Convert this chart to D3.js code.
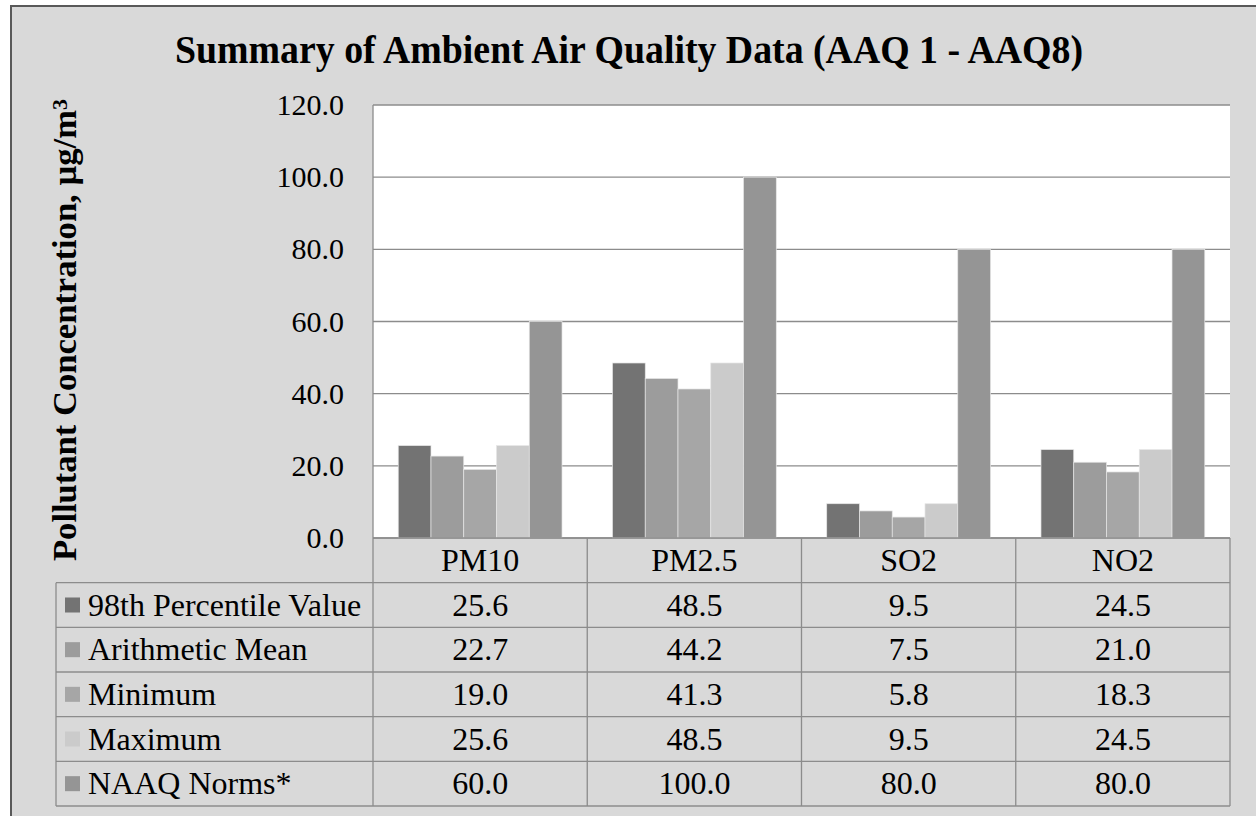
<!DOCTYPE html>
<html>
<head>
<meta charset="utf-8">
<script src="https://cdn.jsdelivr.net/npm/d3@7"></script>
<style>
  body { margin: 0; background: #ffffff; }
  text { font-family: "Liberation Serif", "Times New Roman", serif; fill: #000; }
</style>
</head>
<body>
<svg id="chart" width="1256" height="816"></svg>
<script>
// chart data
const categories = ["PM10", "PM2.5", "SO2", "NO2"]
const seriesNames = ["98th Percentile Value", "Arithmetic Mean", "Minimum", "Maximum", "NAAQ Norms*"]
const p98 = [25.6, 48.5, 9.5, 24.5]
const mean = [22.7, 44.2, 7.5, 21.0]
const minimum = [19.0, 41.3, 5.8, 18.3]
const maximum = [25.6, 48.5, 9.5, 24.5]
const naaq = [60.0, 100.0, 80.0, 80.0]
const yTicks = [0, 20, 40, 60, 80, 100, 120]
const seriesColors = ["#737373", "#9c9c9c", "#a6a6a6", "#cbcbcb", "#959595"]

const seriesValues = [p98, mean, minimum, maximum, naaq]

const svg = d3.select("#chart")

// outer chart frame
svg.append("rect")
    .attr("x", 11).attr("y", 6)
    .attr("width", 1260).attr("height", 820)
    .attr("fill", "#d9d9d9")
    .attr("stroke", "#595959")
    .attr("stroke-width", 2)

const plotL = 373, plotR = 1230, plotT = 105, plotB = 538, tableB = 806, tableL = 56

let x = d3.scaleBand().domain(categories).range([plotL, plotR])
let xs = d3.scaleBand().domain(seriesNames).range([0, x.bandwidth()]).paddingOuter(0.77)
let y = d3.scaleLinear().domain([0, 120]).range([plotB, plotT])

// plot area
svg.append("rect")
    .attr("x", plotL).attr("y", plotT)
    .attr("width", plotR - plotL).attr("height", plotB - plotT)
    .attr("fill", "#ffffff")

// gridlines
svg.append("g")
    .selectAll("line")
    .data(yTicks)
    .enter()
    .append("line")
    .attr("x1", plotL).attr("x2", plotR)
    .attr("y1", d => y(d)).attr("y2", d => y(d))
    .attr("stroke", "#8c8c8c")
    .attr("stroke-width", 1.3)

// bars
seriesValues.forEach(function (vals, i) {
    svg.append("g")
        .selectAll("rect")
        .data(vals)
        .enter()
        .append("rect")
        .attr("x", (d, j) => x(categories[j]) + xs(seriesNames[i]))
        .attr("y", d => y(d))
        .attr("width", xs.bandwidth())
        .attr("height", d => y(0) - y(d))
        .attr("fill", seriesColors[i])
        .attr("stroke", "#e6e6e6")
        .attr("stroke-width", 0.7)
})

// y axis labels
let y_axis = d3.axisLeft(y).tickValues(yTicks).tickFormat(d3.format(".1f")).tickSize(0).tickPadding(29)
let yAxisG = svg.append("g")
    .attr("transform", `translate(${plotL},0)`)
    .call(y_axis)
yAxisG.select(".domain").remove()
yAxisG.selectAll("text")
    .attr("font-size", 30)
    .attr("font-family", "Liberation Serif")
    .attr("fill", "#000")

// data table
let rowKeys = ["header"].concat(seriesNames)
let rows = d3.scaleBand().domain(rowKeys).range([plotB, tableB])

let grid = svg.append("g").attr("stroke", "#8c8c8c").attr("stroke-width", 1.3)
// horizontal rules
rowKeys.forEach(function (k, i) {
    grid.append("line")
        .attr("x1", i === 0 ? plotL : tableL).attr("x2", plotR)
        .attr("y1", rows(k)).attr("y2", rows(k))
})
grid.append("line")
    .attr("x1", tableL).attr("x2", plotR)
    .attr("y1", tableB).attr("y2", tableB)
// vertical rules
categories.forEach(function (c) {
    grid.append("line")
        .attr("x1", x(c)).attr("x2", x(c))
        .attr("y1", x(c) === plotL ? plotT : plotB).attr("y2", tableB)
})
grid.append("line").attr("x1", plotR).attr("x2", plotR).attr("y1", plotB).attr("y2", tableB)
grid.append("line").attr("x1", tableL).attr("x2", tableL).attr("y1", rows(seriesNames[0])).attr("y2", tableB)

// header row
svg.append("g")
    .selectAll("text")
    .data(categories)
    .enter()
    .append("text")
    .attr("x", d => x(d) + x.bandwidth() / 2)
    .attr("y", rows("header") + rows.bandwidth() / 2)
    .attr("dy", "0.33em")
    .attr("text-anchor", "middle")
    .attr("font-size", 32)
    .text(d => d)

// legend + values
seriesNames.forEach(function (s, i) {
    let cy = rows(s) + rows.bandwidth() / 2
    let lgnd = svg.append("g")
    lgnd.append("rect")
        .attr("x", 65).attr("y", cy - 7.5)
        .attr("width", 15).attr("height", 15)
        .attr("fill", seriesColors[i])
    lgnd.append("text")
        .attr("x", 88).attr("y", cy)
        .attr("dy", "0.33em")
        .attr("font-size", 32)
        .text(s)
    svg.append("g")
        .selectAll("text")
        .data(seriesValues[i])
        .enter()
        .append("text")
        .attr("x", (d, j) => x(categories[j]) + x.bandwidth() / 2)
        .attr("y", cy)
        .attr("dy", "0.33em")
        .attr("text-anchor", "middle")
        .attr("font-size", 32)
        .text(d => d3.format(".1f")(d))
})

// title
svg.append("text")
    .attr("x", 629).attr("y", 63)
    .attr("text-anchor", "middle")
    .attr("font-size", 41)
    .attr("font-weight", "bold")
    .attr("textLength", 908)
    .attr("lengthAdjust", "spacingAndGlyphs")
    .text("Summary of Ambient Air Quality Data (AAQ 1 - AAQ8)")

// y axis title
let yl = svg.append("text")
    .attr("transform", `translate(${76},${330}) rotate(-90)`)
    .attr("text-anchor", "middle")
    .attr("font-size", 33)
    .attr("font-weight", "bold")
    .attr("textLength", 462)
    .attr("lengthAdjust", "spacingAndGlyphs")
yl.append("tspan").text("Pollutant Concentration, µg/m")
yl.append("tspan").attr("dy", "-0.45em").attr("font-size", 21).text("3")
</script>
</body>
</html>
